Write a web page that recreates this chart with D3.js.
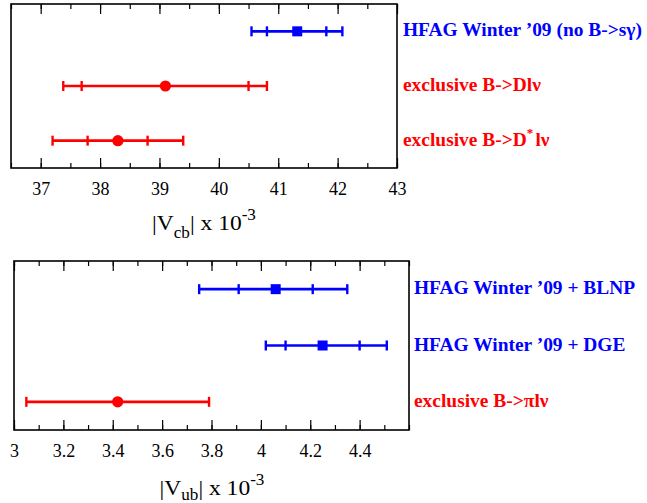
<!DOCTYPE html>
<html>
<head>
<meta charset="utf-8">
<script src="https://cdn.jsdelivr.net/npm/d3@7"></script>
<style>
  body { margin: 0; background: #fff; }
  svg text { font-family: "Liberation Serif", "Times New Roman", serif; }
</style>
</head>
<body>
<svg width="647" height="503"></svg>
<script>
// |Vcb| panel values (x 10^-3)
var vcbLabels  = ["HFAG Winter \u201909 (no B->s\u03b3)", "exclusive B->Dl\u03bd", "exclusive B->D*l\u03bd"];
var vcbCentral = [41.32, 39.10, 38.30];
var vcbInnerLo = [40.81, 37.69, 37.79];
var vcbInnerHi = [41.81, 40.50, 38.80];
var vcbOuterLo = [40.55, 37.38, 37.20];
var vcbOuterHi = [42.08, 40.81, 39.40];
var vcbKind    = ["hfag", "excl", "excl"];
var vcbTicks   = [37, 38, 39, 40, 41, 42, 43];

// |Vub| panel values (x 10^-3)
var vubLabels  = ["HFAG Winter \u201909 + BLNP", "HFAG Winter \u201909 + DGE", "exclusive B->\u03c0l\u03bd"];
var vubCentral = [4.06, 4.25, 3.42];
var vubInnerLo = [3.91, 4.10, null];
var vubInnerHi = [4.21, 4.40, null];
var vubOuterLo = [3.75, 4.02, 3.05];
var vubOuterHi = [4.35, 4.51, 3.79];
var vubKind    = ["hfag", "hfag", "excl"];
var vubTicks   = [3, 3.2, 3.4, 3.6, 3.8, 4, 4.2, 4.4];

var colors = { hfag: "#0000ff", excl: "#ff0000" };
var serif = "Liberation Serif, Times New Roman, serif";

var svg = d3.select("svg");

function panel(opt) {
  var x = d3.scaleLinear().domain(opt.domain).range([opt.left, opt.right]);
  var y = d3.scaleBand().domain(d3.range(opt.labels.length)).range([opt.top, opt.bottom]);
  var g = svg.append("g");

  // minor ticks, bottom and top
  var minor = d3.range(opt.domain[0], opt.domain[1] + 1e-9, opt.minorStep);
  g.append("g").attr("transform", "translate(0," + opt.bottom + ")")
    .call(d3.axisBottom(x).tickValues(minor).tickSize(-5).tickFormat(""));
  g.append("g").attr("transform", "translate(0," + opt.top + ")")
    .call(d3.axisTop(x).tickValues(minor).tickSize(-5).tickFormat(""));

  // major ticks with labels
  var ax = g.append("g").attr("transform", "translate(0," + opt.bottom + ")")
    .call(d3.axisBottom(x).tickValues(opt.ticks).tickSize(-10).tickPadding(14)
      .tickFormat(function(d) { return String(d); }));
  ax.attr("font-family", serif).attr("font-size", 18);
  ax.selectAll("text").attr("fill", "#000");
  g.append("g").attr("transform", "translate(0," + opt.top + ")")
    .call(d3.axisTop(x).tickValues(opt.ticks).tickSize(-10).tickFormat(""));
  g.selectAll(".domain").remove();
  g.selectAll(".tick line").attr("stroke", "#000").attr("stroke-width", 1.2);

  // frame
  g.append("rect")
    .attr("x", opt.left).attr("y", opt.top)
    .attr("width", opt.right - opt.left).attr("height", opt.bottom - opt.top)
    .attr("fill", "none").attr("stroke", "#000").attr("stroke-width", 1.6);

  // error bars
  var rows = g.selectAll(".row").data(opt.labels.map(function(l, i) { return i; }))
    .enter().append("g")
    .attr("transform", function(i) { return "translate(0," + (y(i) + y.bandwidth() / 2) + ")"; })
    .attr("stroke", function(i) { return colors[opt.kind[i]]; })
    .attr("fill", function(i) { return colors[opt.kind[i]]; });

  rows.append("line")
    .attr("x1", function(i) { return x(opt.outerLo[i]); })
    .attr("x2", function(i) { return x(opt.outerHi[i]); })
    .attr("stroke-width", 2.6);

  rows.each(function(i) {
    var ends = [opt.outerLo[i], opt.outerHi[i], opt.innerLo[i], opt.innerHi[i]]
      .filter(function(v) { return v != null; });
    d3.select(this).selectAll(".cap").data(ends)
      .enter().append("line")
      .attr("x1", function(v) { return x(v); })
      .attr("x2", function(v) { return x(v); })
      .attr("y1", -5).attr("y2", 5)
      .attr("stroke-width", 2.4);
  });

  rows.filter(function(i) { return opt.kind[i] === "hfag"; })
    .append("rect")
    .attr("x", function(i) { return x(opt.central[i]) - 5; })
    .attr("y", -5).attr("width", 10).attr("height", 10).attr("stroke", "none");
  rows.filter(function(i) { return opt.kind[i] === "excl"; })
    .append("circle")
    .attr("cx", function(i) { return x(opt.central[i]); })
    .attr("r", 5.6).attr("stroke", "none");

  // row labels (slightly widened like the original type)
  var lab = g.selectAll(".lab").data(opt.labels.map(function(l, i) { return i; }))
    .enter().append("text")
    .attr("transform", function(i) {
      return "translate(" + (opt.right + opt.labelGap) + "," + (y(i) + y.bandwidth() / 2 + 5) + ") scale(1.08,1)";
    })
    .attr("font-family", serif)
    .attr("font-size", 18).attr("font-weight", "bold")
    .attr("fill", function(i) { return colors[opt.kind[i]]; });
  lab.each(function(i) {
    var t = d3.select(this), s = opt.labels[i];
    var k = s.indexOf("*");
    if (k < 0) { t.text(s); return; }
    t.append("tspan").text(s.slice(0, k));
    t.append("tspan").attr("dy", -9).attr("font-size", 12).text("*");
    t.append("tspan").attr("dy", 9).attr("dx", 2).text(s.slice(k + 1));
  });

  // axis title
  var title = g.append("text")
    .attr("transform", "translate(" + opt.titleX + "," + opt.titleY + ") scale(1.07,1)")
    .attr("font-family", serif)
    .attr("text-anchor", "middle").attr("font-size", 22).attr("fill", "#000");
  title.append("tspan").text("|V");
  title.append("tspan").attr("dy", opt.subDy).attr("font-size", 16).text(opt.sub);
  title.append("tspan").attr("dy", -opt.subDy).text("| x 10");
  title.append("tspan").attr("dy", -10).attr("font-size", 16).text("-3");
}

panel({
  labels: vcbLabels, central: vcbCentral,
  innerLo: vcbInnerLo, innerHi: vcbInnerHi, outerLo: vcbOuterLo, outerHi: vcbOuterHi,
  kind: vcbKind, ticks: vcbTicks, domain: [36.5, 43], minorStep: 0.5,
  left: 11, right: 397, top: 4, bottom: 168, labelGap: 6,
  sub: "cb", subDy: 8, titleX: 204, titleY: 230
});

panel({
  labels: vubLabels, central: vubCentral,
  innerLo: vubInnerLo, innerHi: vubInnerHi, outerLo: vubOuterLo, outerHi: vubOuterHi,
  kind: vubKind, ticks: vubTicks, domain: [3, 4.6], minorStep: 0.1,
  left: 14, right: 409, top: 261, bottom: 430, labelGap: 5,
  sub: "ub", subDy: 5, titleX: 212, titleY: 495
});
</script>
</body>
</html>
